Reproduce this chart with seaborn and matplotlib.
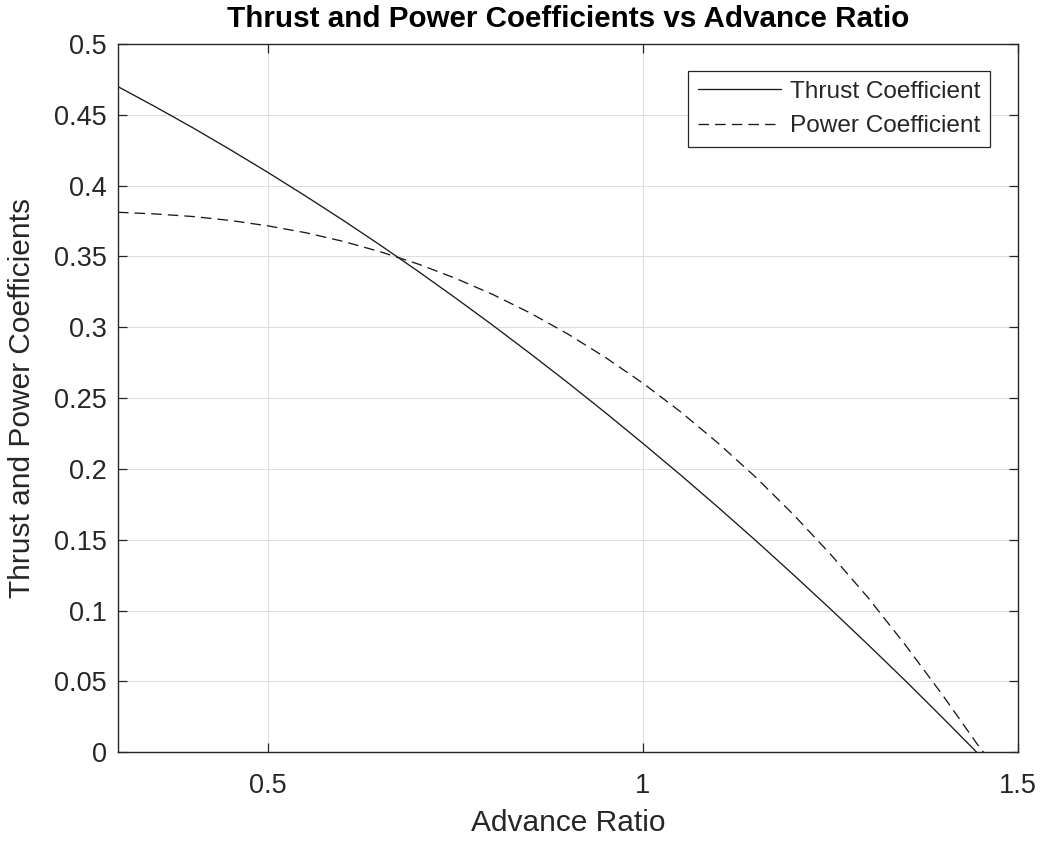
import matplotlib
matplotlib.use("Agg")
import matplotlib.pyplot as plt
import pandas as pd
import seaborn as sns

# Advance ratio samples and the two coefficient curves
advance_ratio = [0.30, 0.35, 0.40, 0.45, 0.50, 0.55, 0.60, 0.65, 0.70, 0.75,
                 0.80, 0.85, 0.90, 0.95, 1.00, 1.05, 1.10, 1.15, 1.20, 1.25,
                 1.30, 1.35, 1.40, 1.445, 1.454]
thrust_coef = [0.4699, 0.4556, 0.4408, 0.4253, 0.4093, 0.3927, 0.3756, 0.3579,
               0.3396, 0.3207, 0.3013, 0.2813, 0.2608, 0.2397, 0.2180, 0.1958,
               0.1730, 0.1496, 0.1256, 0.1011, 0.0760, 0.0504, 0.0241, 0.0000,
               -0.0050]
power_coef = [0.3812, 0.3800, 0.3782, 0.3754, 0.3716, 0.3668, 0.3607, 0.3533,
              0.3447, 0.3346, 0.3231, 0.3100, 0.2952, 0.2787, 0.2605, 0.2404,
              0.2183, 0.1943, 0.1681, 0.1398, 0.1092, 0.0756, 0.0400, 0.0062,
              0.0000]

series_names = ["Thrust Coefficient", "Power Coefficient"]

x_ticks = [0.5, 1.0, 1.5]
x_tick_labels = ["0.5", "1", "1.5"]
y_ticks = [0.0, 0.05, 0.10, 0.15, 0.20, 0.25, 0.30, 0.35, 0.40, 0.45, 0.50]
y_tick_labels = ["0", "0.05", "0.1", "0.15", "0.2", "0.25", "0.3", "0.35", "0.4", "0.45", "0.5"]

df = pd.DataFrame({"J": advance_ratio, "CT": thrust_coef, "CP": power_coef})

sns.set_theme(style="white")
plt.rcParams["font.family"] = ["Liberation Sans", "DejaVu Sans"]

fig = plt.figure(figsize=(10.44, 8.41), dpi=100)
ax = fig.add_axes([0.1130, 0.1055, 0.8621, 0.8422])

axis_col = "#262626"
line_col = "#1a1a1a"

sns.lineplot(data=df, x="J", y="CT", ax=ax, color=line_col, linewidth=0.95,
             label=series_names[0], sort=False)
sns.lineplot(data=df, x="J", y="CP", ax=ax, color=line_col, linewidth=0.95,
             linestyle=(0, (8.0, 4.6)), label=series_names[1], sort=False)

ax.set_xlim(0.3, 1.5)
ax.set_ylim(0.0, 0.5)
ax.set_xticks(x_ticks)
ax.set_xticklabels(x_tick_labels)
ax.set_yticks(y_ticks)
ax.set_yticklabels(y_tick_labels)

ax.grid(True, color="#dedede", linewidth=0.8)
ax.set_axisbelow(True)

for s in ax.spines.values():
    s.set_visible(True)
    s.set_color(axis_col)
    s.set_linewidth(1.0)

ax.tick_params(axis="both", which="major", direction="in", length=6.5, width=0.9,
               color=axis_col, labelcolor=axis_col, labelsize=19.5,
               top=True, right=True, bottom=True, left=True)
ax.tick_params(axis="x", pad=15)
ax.tick_params(axis="y", pad=8)

ax.set_xlabel("Advance Ratio", fontsize=21.5, color=axis_col, labelpad=7)
ax.set_ylabel("Thrust and Power Coefficients", fontsize=21.5, color=axis_col, labelpad=13)
ax.set_title("Thrust and Power Coefficients vs Advance Ratio", fontsize=21.3,
             fontweight="bold", color="black", pad=12)

leg = ax.legend(loc="upper right", bbox_to_anchor=(0.9689, 0.9619), borderaxespad=0,
                fontsize=17.6, frameon=True, fancybox=False, shadow=False,
                handlelength=3.4, handletextpad=0.35, borderpad=0.4,
                labelspacing=0.5)
frame = leg.get_frame()
frame.set_edgecolor(axis_col)
frame.set_linewidth(0.9)
frame.set_facecolor("white")
frame.set_alpha(1.0)
for t in leg.get_texts():
    t.set_color(axis_col)

fig.savefig("out.png", dpi=100, facecolor="white")
